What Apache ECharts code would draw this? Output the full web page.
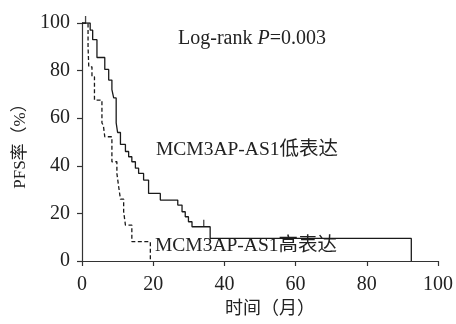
<!DOCTYPE html>
<html>
<head>
<meta charset="utf-8">
<script src="https://cdn.jsdelivr.net/npm/echarts@6/dist/echarts.min.js"></script>
<style>
html,body{margin:0;padding:0;background:#fff;}
#chart{width:456px;height:324px;}
</style>
</head>
<body>
<div id="chart"></div>
<script>
// Low expression group (solid)
const lowTimes = [0, 2.3, 3.0, 4.2, 6.4, 7.5, 8.4, 8.9, 9.6, 10.0, 10.8, 12.2, 13.1, 14.0, 15.0, 15.9, 17.3, 18.7, 22.0, 26.9, 28.1, 29.0, 29.9, 30.9, 36.0, 92.5];
const lowSurv  = [100, 97, 93, 85.5, 80.5, 76, 72, 68.5, 58, 54, 49, 46, 43.8, 41.7, 39, 36.8, 34, 28.4, 25.6, 23.5, 20.7, 18.6, 16.5, 14.4, 9.5, 0];
const lowCensorTimes = [34.2];
const lowCensorSurv  = [14.4];
// High expression group (dashed)
const highTimes = [0, 1.7, 1.9, 2.8, 3.5, 5.6, 6.0, 6.4, 8.4, 9.8, 10.3, 10.8, 11.7, 12.2, 14.0, 19.2];
const highSurv  = [100, 90, 81.6, 77.4, 67.6, 58, 57, 52.2, 41.7, 36.8, 31.2, 26, 20.7, 15.1, 8.1, 0];
const highCensorTimes = [1.0];
const highCensorSurv  = [100];
// Axis ticks
const xTicks = [0, 20, 40, 60, 80, 100];
const yTicks = [0, 20, 40, 60, 80, 100];
const xTitle = '时间（月）';
const yTitle = 'PFS率（%）';
const lowLabel = 'MCM3AP-AS1低表达';
const highLabel = 'MCM3AP-AS1高表达';

const pairs = (a, b) => a.map((v, i) => [v, b[i]]);
const FONT = '"Liberation Serif", "Times New Roman", "Noto Sans CJK SC", serif';
const INK = '#1a1a1a';

const chart = echarts.init(document.getElementById('chart'), null, {renderer: 'canvas'});
const axisCommon = {
  type: 'value',
  axisLine: {show: true, lineStyle: {color: '#333', width: 1.2}},
  axisTick: {show: true, length: 5, inside: false, lineStyle: {color: '#333', width: 1.2}},
  splitLine: {show: false},
  axisLabel: {fontFamily: FONT, fontSize: 20, color: '#222', margin: 12}
};
chart.setOption({
  animation: false,
  grid: {left: 82, right: 18, top: 23, bottom: 63, containLabel: false},
  xAxis: Object.assign({}, axisCommon, {
    min: xTicks[0], max: xTicks[xTicks.length - 1], interval: xTicks[1] - xTicks[0],
    axisLabel: Object.assign({}, axisCommon.axisLabel, {margin: 14}),
    name: xTitle, nameLocation: 'middle', nameGap: 37,
    nameTextStyle: {fontFamily: FONT, fontSize: 18, color: '#222', padding: [0, 0, 0, 20]}
  }),
  yAxis: Object.assign({}, axisCommon, {
    min: yTicks[0], max: yTicks[yTicks.length - 1], interval: yTicks[1] - yTicks[0],
    name: yTitle, nameLocation: 'middle', nameGap: 45,
    nameTextStyle: {fontFamily: FONT, fontSize: 17, color: '#222'}
  }),
  series: [
    {type: 'line', step: 'end', symbol: 'none', data: pairs(lowTimes, lowSurv),
     lineStyle: {color: INK, width: 1.3}},
    {type: 'line', step: 'end', symbol: 'none', data: pairs(highTimes, highSurv),
     lineStyle: {color: INK, width: 1.3, type: [4, 2.5]}},
    {type: 'scatter', symbol: 'rect', symbolSize: [1.3, 7], symbolOffset: [0, -3.5],
     data: pairs(lowCensorTimes, lowCensorSurv).concat(pairs(highCensorTimes, highCensorSurv)),
     itemStyle: {color: INK}}
  ],
  graphic: [
    {type: 'text', left: 178, top: 29,
     style: {rich: {a: {fontFamily: FONT, fontSize: 20, fill: '#222'}, i: {fontFamily: FONT, fontSize: 20, fontStyle: 'italic', fill: '#222'}},
             text: '{a|Log-rank }{i|P}{a|=0.003}'}},
    {type: 'text', left: 156, top: 140,
     style: {text: lowLabel, fontFamily: FONT, fontSize: 19.5, fill: '#222'}},
    {type: 'text', left: 155, top: 236,
     style: {text: highLabel, fontFamily: FONT, fontSize: 19.5, fill: '#222'}}
  ]
});
</script>
</body>
</html>
